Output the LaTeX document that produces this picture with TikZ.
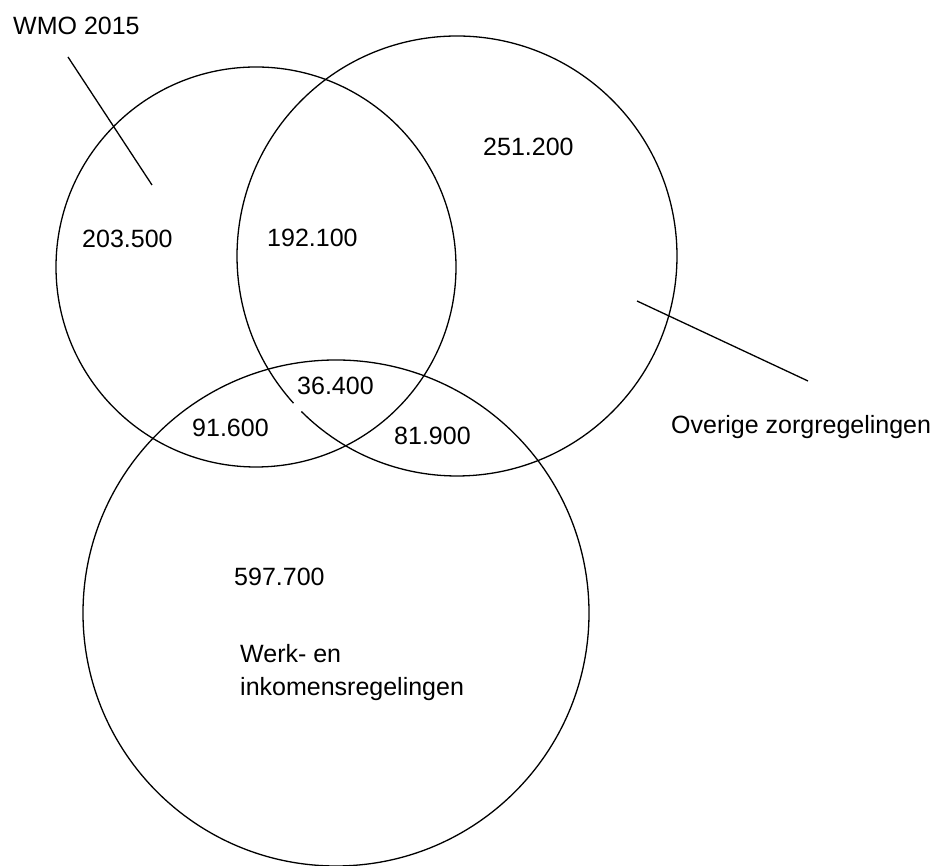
\documentclass[tikz,border=0pt]{standalone}
\usepackage{fontspec}
\setmainfont{Liberation Sans}
\begin{document}
\begin{tikzpicture}[x=1pt,y=1pt,
  ring/.style={draw=black, line width=1.3pt},
  leader/.style={draw=black, line width=1.3pt},
  lbl/.style={inner sep=0pt, anchor=base west, font=\fontsize{25}{33.5}\selectfont, text=black}]
\useasboundingbox (0,0) rectangle (935,866);
\fill[white] (0,0) rectangle (935,866);
% circles
\coordinate (cA) at (256,599);
\coordinate (cB) at (457,610);
\coordinate (cC) at (336,253);
\draw[ring] (cA) circle[radius=200];
\draw[ring] (cB) ++(225:220) arc[start angle=225, end angle=582, radius=220];
\draw[ring] (cC) circle[radius=253];
% leader lines
\coordinate (wmoA) at (68,809);
\coordinate (wmoB) at (152,681);
\coordinate (ovA) at (637,565);
\coordinate (ovB) at (808,485);
\draw[leader] (wmoA) -- (wmoB);
\draw[leader] (ovA) -- (ovB);
% labels
\node[lbl] (twmo) at (13,831) {WMO 2015};
\node[lbl] (t251) at (483,710) {251.200};
\node[lbl] (t203) at (82,618) {203.500};
\node[lbl] (t192) at (267,619) {192.100};
\node[lbl] (t36) at (297,471) {36.400};
\node[lbl] (t91) at (192,429) {91.600};
\node[lbl] (t81) at (394,421) {81.900};
\node[lbl] (tov) at (671,432) {Overige zorgregelingen};
\node[lbl] (t597) at (234,280) {597.700};
\node[lbl] (twerk) at (240,203.5) {Werk- en};
\node[lbl] (tink) at (240,170) {inkomensregelingen};
\end{tikzpicture}
\end{document}
